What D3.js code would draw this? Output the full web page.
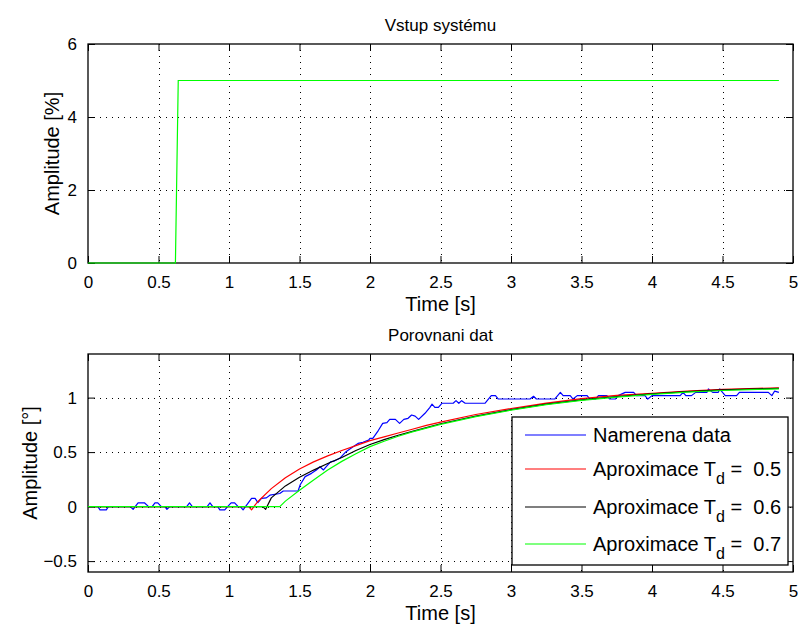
<!DOCTYPE html>
<html>
<head>
<meta charset="utf-8">
<script src="https://cdn.jsdelivr.net/npm/d3@7"></script>
<style>
  body { margin: 0; background: #fff; }
  text { font-family: "Liberation Sans", Arial, sans-serif; white-space: pre; }
</style>
</head>
<body>
<div class="chart"></div>
<script>
// x ticks shared by both panels
const xTicks = [0, 0.5, 1, 1.5, 2, 2.5, 3, 3.5, 4, 4.5, 5];
const xTickLabels = ['0', '0.5', '1', '1.5', '2', '2.5', '3', '3.5', '4', '4.5', '5'];

// top panel: system input (step)
const inputTicks = [0, 2, 4, 6];
const inputTickLabels = ['0', '2', '4', '6'];
const inputData = [[0, 0], [0.62, 0], [0.64, 5], [4.9, 5]];

// bottom panel: measured data vs approximations
const cmpTicks = [-0.5, 0, 0.5, 1];
const cmpTickLabels = ['\u22120.5', '0', '0.5', '1'];

const measured = [
    [0, 0], [0.07, 0], [0.085, -0.03], [0.13, -0.03], [0.145, 0], [0.3, 0], [0.32, -0.025],
    [0.355, 0.035], [0.4, 0.035], [0.43, 0], [0.455, 0], [0.475, 0.035], [0.495, 0.035],
    [0.52, 0], [0.545, 0], [0.56, -0.025], [0.58, 0], [0.7, 0], [0.72, 0.035], [0.74, 0],
    [0.845, 0], [0.865, 0.035], [0.885, 0], [0.92, 0], [0.935, -0.03], [0.97, -0.03],
    [0.99, 0], [1.015, 0.035], [1.04, 0.035], [1.065, 0], [1.08, 0], [1.1, -0.03],
    [1.16, 0.075], [1.185, 0.075], [1.205, 0.036], [1.23, 0.075], [1.265, 0.08], [1.29, 0.105],
    [1.36, 0.12], [1.385, 0.143], [1.49, 0.143], [1.505, 0.2], [1.54, 0.275], [1.585, 0.305],
    [1.62, 0.336], [1.645, 0.366], [1.67, 0.336], [1.69, 0.366], [1.72, 0.41], [1.75, 0.42],
    [1.785, 0.443], [1.83, 0.504], [1.88, 0.55], [1.915, 0.58], [1.95, 0.59], [1.99, 0.61],
    [2.0, 0.626], [2.02, 0.626], [2.06, 0.7], [2.09, 0.764], [2.12, 0.77], [2.14, 0.8],
    [2.18, 0.8], [2.21, 0.764], [2.24, 0.8], [2.27, 0.81], [2.295, 0.84], [2.32, 0.83],
    [2.345, 0.8], [2.39, 0.856], [2.425, 0.91], [2.44, 0.94], [2.46, 0.91], [2.485, 0.91],
    [2.51, 0.948], [2.59, 0.948], [2.61, 0.972], [2.63, 0.948], [2.65, 0.972], [2.675, 0.948],
    [2.815, 0.948], [2.86, 1.018], [2.89, 1.018], [2.91, 0.987], [3.135, 0.987], [3.16, 1.012],
    [3.18, 0.987], [3.31, 0.987], [3.35, 1.048], [3.37, 1.018], [3.42, 1.018], [3.44, 0.987],
    [3.47, 1.018], [3.54, 1.018], [3.56, 0.987], [3.6, 0.987], [3.62, 1.018], [3.68, 1.018],
    [3.7, 0.987], [3.74, 0.987], [3.76, 1.018], [3.81, 1.048], [3.87, 1.048], [3.89, 1.018],
    [3.95, 1.018], [3.97, 0.987], [4.0, 1.018], [4.2, 1.018], [4.22, 1.048], [4.24, 1.018],
    [4.28, 1.018], [4.31, 1.048], [4.39, 1.048], [4.4, 1.079], [4.43, 1.048], [4.47, 1.048],
    [4.48, 1.079], [4.5, 1.048], [4.52, 1.018], [4.6, 1.018], [4.62, 1.048], [4.825, 1.048],
    [4.85, 1.018], [4.87, 1.06], [4.9, 1.048]
];

const approx05 = [
    [0, 0], [1.14, 0], [1.16, -0.03], [1.2, 0.04], [1.3, 0.165], [1.4, 0.265], [1.5, 0.345],
    [1.6, 0.41], [1.7, 0.465], [1.8, 0.515], [1.9, 0.56], [2.0, 0.605], [2.1, 0.64],
    [2.2, 0.675], [2.3, 0.71], [2.4, 0.745], [2.5, 0.775], [2.75, 0.845], [3.0, 0.9],
    [3.25, 0.95], [3.5, 0.99], [3.75, 1.02], [4.0, 1.04], [4.25, 1.06], [4.5, 1.075],
    [4.75, 1.085], [4.9, 1.09]
];
const approx06 = [
    [0, 0], [1.24, 0], [1.26, -0.025], [1.3, 0.08], [1.4, 0.19], [1.5, 0.27], [1.6, 0.335],
    [1.7, 0.395], [1.8, 0.45], [1.9, 0.515], [2.0, 0.57], [2.1, 0.615], [2.2, 0.655],
    [2.3, 0.69], [2.4, 0.725], [2.5, 0.76], [2.75, 0.83], [3.0, 0.89], [3.25, 0.94],
    [3.5, 0.98], [3.75, 1.01], [4.0, 1.035], [4.25, 1.055], [4.5, 1.07], [4.75, 1.08],
    [4.9, 1.085]
];
const approx07 = [
    [0, 0], [1.36, 0], [1.4, 0.05], [1.5, 0.15], [1.6, 0.245], [1.7, 0.335], [1.8, 0.415],
    [1.9, 0.485], [2.0, 0.55], [2.1, 0.6], [2.2, 0.645], [2.3, 0.685], [2.4, 0.72],
    [2.5, 0.755], [2.75, 0.825], [3.0, 0.885], [3.25, 0.935], [3.5, 0.975], [3.75, 1.005],
    [4.0, 1.03], [4.25, 1.05], [4.5, 1.065], [4.75, 1.075], [4.9, 1.08]
];

const legendNames = ['Namerena data', 'Aproximace T', 'Aproximace T', 'Aproximace T'];
const legendTd = [null, '0.5', '0.6', '0.7'];
const seriesColors = ['#0000ff', '#ff0000', '#000000', '#00ff00'];

const outerWidth = 798, outerHeight = 626;
const tickFont = 17, labelFont = 20;
const tickLen = 7;

const svg = d3.select('.chart').append('svg')
    .attr('width', outerWidth)
    .attr('height', outerHeight);

const line = d3.line().x(d => d[0]).y(d => d[1]);

const drawPanel = (opts) => {
    const {left, right, top, bottom, yDomain, yTicks, yLabels, title, ylabel, ylabelX} = opts;
    const width = right - left, height = bottom - top;
    const g = svg.append('g').attr('transform', `translate(${left},${top})`);

    const x = d3.scaleLinear().domain([0, 5]).range([0, width]);
    const y = d3.scaleLinear().domain(yDomain).range([height, 0]);

    g.append('rect').attr('width', width).attr('height', height).attr('fill', '#fff');

    // dotted grid
    const grid = g.append('g').attr('stroke', '#000').attr('stroke-width', 1)
        .attr('stroke-dasharray', '1,5');
    grid.selectAll('.gx').data(xTicks.slice(1, -1)).join('line')
        .attr('x1', d => Math.round(x(d)) + 0.5).attr('x2', d => Math.round(x(d)) + 0.5)
        .attr('y1', 0).attr('y2', height);
    grid.selectAll('.gy').data(yTicks.filter(t => t > yDomain[0] && t < yDomain[1])).join('line')
        .attr('y1', d => Math.round(y(d)) + 0.5).attr('y2', d => Math.round(y(d)) + 0.5)
        .attr('x1', 0).attr('x2', width);

    // axes with inward ticks on all sides
    const styleAxis = (sel) => {
        sel.select('.domain').remove();
        sel.selectAll('line').attr('stroke', '#000');
        sel.selectAll('text').attr('font-size', tickFont).attr('fill', '#000')
            .attr('font-family', '"Liberation Sans", Arial, sans-serif');
    };
    g.append('g').attr('transform', `translate(0,${height})`)
        .call(d3.axisBottom(x).tickValues(xTicks).tickSize(-tickLen).tickPadding(tickLen + 6)
            .tickFormat((d, i) => xTickLabels[i]))
        .call(styleAxis);
    g.append('g')
        .call(d3.axisTop(x).tickValues(xTicks).tickSize(-tickLen).tickFormat(''))
        .call(styleAxis);
    g.append('g')
        .call(d3.axisLeft(y).tickValues(yTicks).tickSize(-tickLen).tickPadding(tickLen + 4)
            .tickFormat((d, i) => yLabels[i]))
        .call(styleAxis);
    g.append('g').attr('transform', `translate(${width},0)`)
        .call(d3.axisRight(y).tickValues(yTicks).tickSize(-tickLen).tickFormat(''))
        .call(styleAxis);

    g.append('rect').attr('width', width).attr('height', height)
        .attr('fill', 'none').attr('stroke', '#000').attr('stroke-width', 1.3);

    svg.append('text').attr('x', left + width / 2).attr('y', top - 13)
        .attr('text-anchor', 'middle').attr('font-size', tickFont).text(title);
    svg.append('text').attr('x', left + width / 2).attr('y', bottom + 48)
        .attr('text-anchor', 'middle').attr('font-size', labelFont).text('Time [s]');
    svg.append('text')
        .attr('transform', `translate(${ylabelX},${top + height / 2}) rotate(-90)`)
        .attr('text-anchor', 'middle').attr('font-size', labelFont).text(ylabel);

    return {g, x, y};
};

// top panel
const p1 = drawPanel({
    left: 88, right: 793, top: 44, bottom: 263,
    yDomain: [0, 6], yTicks: inputTicks, yLabels: inputTickLabels,
    title: 'Vstup systému', ylabel: 'Amplitude [%]', ylabelX: 59
});
p1.g.append('path')
    .attr('d', line(inputData.map(d => [p1.x(d[0]), p1.y(d[1])])))
    .attr('fill', 'none').attr('stroke', seriesColors[3]).attr('stroke-width', 1.2);

// bottom panel
const p2 = drawPanel({
    left: 88, right: 793, top: 354, bottom: 572,
    yDomain: [-0.6, 1.4], yTicks: cmpTicks, yLabels: cmpTickLabels,
    title: 'Porovnani dat', ylabel: 'Amplitude [°]', ylabelX: 37
});
[measured, approx05, approx06, approx07].forEach((s, i) => {
    p2.g.append('path')
        .attr('d', line(s.map(d => [p2.x(d[0]), p2.y(d[1])])))
        .attr('fill', 'none').attr('stroke', seriesColors[i]).attr('stroke-width', 1.2)
        .attr('stroke-linejoin', 'round');
});

// legend
const leg = svg.append('g').attr('transform', 'translate(512,417)');
leg.append('rect').attr('width', 276).attr('height', 148)
    .attr('fill', '#fff').attr('stroke', '#000').attr('stroke-width', 1.3);
const rowY = [18, 52, 90, 127];
legendNames.forEach((name, i) => {
    const cy = rowY[i];
    leg.append('line').attr('x1', 13).attr('x2', 74).attr('y1', cy).attr('y2', cy)
        .attr('stroke', seriesColors[i]).attr('stroke-width', 1.2);
    const t = leg.append('text').attr('x', 81).attr('y', cy + 7).attr('font-size', labelFont)
        .attr('xml:space', 'preserve');
    t.append('tspan').text(name);
    if (legendTd[i]) {
        t.append('tspan').attr('dy', 8).attr('font-size', 16).text('d');
        t.append('tspan').attr('dy', -8).text(' =  ' + legendTd[i]);
    }
});
</script>
</body>
</html>
